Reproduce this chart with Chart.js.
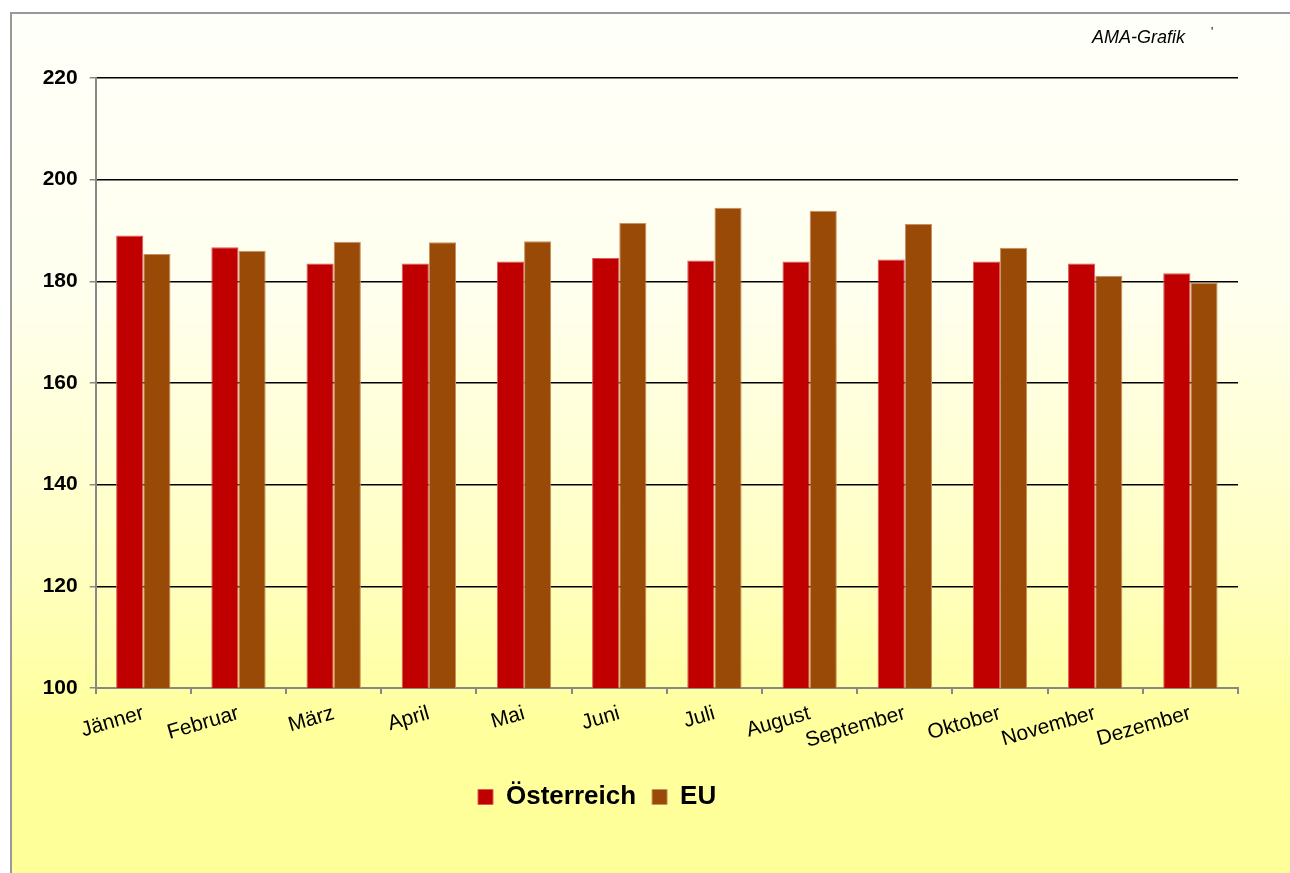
<!DOCTYPE html>
<html>
<head>
<meta charset="utf-8">
<script src="https://cdn.jsdelivr.net/npm/chart.js@4/dist/chart.umd.min.js"></script>
<style>
html,body{margin:0;padding:0;background:#fff;overflow:hidden;}
#wrap{position:relative;width:1290px;height:873px;}
</style>
</head>
<body>
<div id="wrap"><canvas id="c"></canvas></div>
<script>
const categories = ["Jänner","Februar","März","April","Mai","Juni","Juli","August","September","Oktober","November","Dezember"];
const oesterreich = [189.0,186.7,183.5,183.5,183.9,184.6,184.1,183.9,184.3,183.9,183.5,181.6];
const eu = [185.4,186.0,187.8,187.7,187.9,191.5,194.5,193.9,191.3,186.6,181.1,179.7];
const yTicks = [100,120,140,160,180,200,220];
const seriesNames = ["Österreich","EU"];
const creditText = "AMA-Grafik";

const bgPlugin = {
  id: 'bg',
  beforeDraw(chart) {
    const ctx = chart.ctx;
    const W = chart.width, H = chart.height;
    ctx.save();
    ctx.fillStyle = '#ffffff';
    ctx.fillRect(0, 0, W, H);
    const g = ctx.createLinearGradient(0, 12, 0, H);
    g.addColorStop(0, '#FFFFFA');
    g.addColorStop(0.33, '#FFFFEE');
    g.addColorStop(0.63, '#FFFFC4');
    g.addColorStop(0.83, '#FFFF9C');
    g.addColorStop(1, '#FFFF99');
    ctx.fillStyle = g;
    ctx.fillRect(10, 12, W - 10, H - 12);
    ctx.strokeStyle = '#999999';
    ctx.lineWidth = 2;
    ctx.beginPath();
    ctx.moveTo(11, H);
    ctx.lineTo(11, 13);
    ctx.lineTo(W, 13);
    ctx.stroke();
    ctx.restore();
  },
  afterLayout(chart) {
    const lg = chart.legend;
    if (lg) {
      const pad = lg.options.labels.padding;
      const fs = lg.options.labels.font.size;
      lg.left = 478 - pad;
      lg.right = chart.width;
      lg.width = lg.right - lg.left;
      const h = lg.height;
      lg.top = 797 - fs / 2 - pad;
      lg.bottom = lg.top + h;
    }
  },
  afterDraw(chart) {
    const ctx = chart.ctx;
    ctx.save();
    ctx.fillStyle = '#000';
    ctx.font = 'italic 18px "Liberation Sans", Arial, sans-serif';
    ctx.textBaseline = 'alphabetic';
    ctx.textAlign = 'left';
    ctx.fillText(creditText, 1092, 43);
    ctx.font = '12px "Liberation Sans", Arial, sans-serif';
    ctx.fillText("'", 1211, 36);
    ctx.restore();
  }
};

new Chart(document.getElementById('c'), {
  type: 'bar',
  data: {
    labels: categories,
    datasets: [
      { label: seriesNames[0], data: oesterreich, backgroundColor: '#C00000', borderColor: '#DA5A5A', borderWidth: 1, borderSkipped: 'bottom' },
      { label: seriesNames[1], data: eu, backgroundColor: '#994A07', borderColor: '#C99060', borderWidth: 1, borderSkipped: 'bottom' }
    ]
  },
  options: {
    responsive: true,
    maintainAspectRatio: false,
    animation: false,
    datasets: { bar: { categoryPercentage: 0.571, barPercentage: 1.0 } },
    layout: { padding: { left: 0, right: 52, top: 78, bottom: 33 } },
    plugins: {
      legend: {
        position: 'bottom',
        align: 'start',
        labels: {
          boxWidth: 15,
          boxHeight: 15,
          padding: 16,
          color: '#000',
          font: { family: '"Liberation Sans", Arial, sans-serif', size: 26, weight: 'bold' }
        }
      },
      tooltip: { enabled: false }
    },
    scales: {
      x: {
        afterFit(s) { s.height = 100; },
        grid: { display: true, offset: true, drawOnChartArea: false, drawTicks: true, tickLength: 6, color: '#888888', lineWidth: 2 },
        border: { display: true, color: '#888888', width: 2 },
        ticks: {
          autoSkip: false,
          minRotation: 16,
          maxRotation: 16,
          padding: 7,
          color: '#000',
          font: { family: '"Liberation Sans", Arial, sans-serif', size: 21 }
        }
      },
      y: {
        min: yTicks[0],
        max: yTicks[yTicks.length - 1],
        afterFit(s) { s.width = 95.7; },
        afterBuildTicks(s) { s.ticks = yTicks.map(v => ({ value: v })); },
        grid: {
          drawTicks: true,
          tickLength: 6,
          lineWidth: 1.5,
          color: (c) => (c.tick && c.tick.value === yTicks[0]) ? 'rgba(0,0,0,0)' : '#000000',
          tickColor: '#888888'
        },
        border: { display: true, color: '#888888', width: 2 },
        ticks: {
          stepSize: 20,
          padding: 12,
          color: '#000',
          font: { family: '"Liberation Sans", Arial, sans-serif', size: 21, weight: 'bold' }
        }
      }
    }
  },
  plugins: [bgPlugin]
});
</script>
</body>
</html>
